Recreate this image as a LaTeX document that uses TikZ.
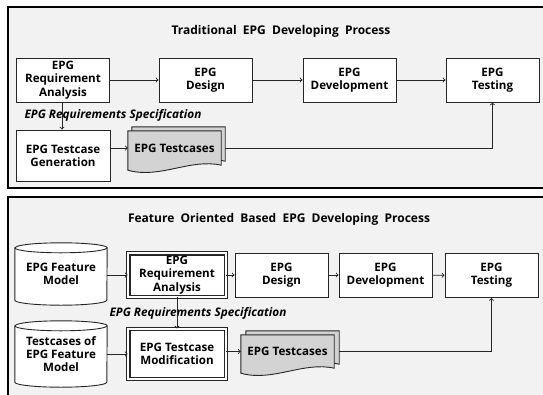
\documentclass[tikz,border=0pt]{standalone}
\usepackage{fontspec}
\setmainfont{Open Sans}
\usetikzlibrary{calc}
\definecolor{panelgray}{HTML}{F2F2F2}
\definecolor{docgray}{HTML}{D3D3D3}
\definecolor{linegray}{HTML}{262626}
\newcommand{\boxfont}{\fontsize{11.6}{13.2}\selectfont\bfseries}
\newcommand{\specfont}{\fontsize{11.8}{13}\selectfont\bfseries\itshape}
\newcommand{\titlefont}{\fontsize{12}{14}\selectfont\bfseries}
\pgfdeclarelayer{panel}
\pgfdeclarelayer{sheet}
\pgfsetlayers{panel,sheet,main}
% testcase document: node name, offset
\newcommand{\docsheet}[2]{%
  \draw[fill=docgray,draw=linegray,line width=0.9pt]
    ($(#1.north west)+#2$) -- ($(#1.north east)+#2$) -- ($(#1.south east)+#2$)
    .. controls ($(#1.south east)+(-31,-7)+#2$) and ($(#1.south west)+(32,14)+#2$) .. ($(#1.south west)+(0,5)+#2$) -- cycle;}
% feature model cylinder: node name
\newcommand{\cylsheet}[1]{%
  \draw[fill=white,draw=linegray,line width=0.9pt]
    (#1.north west) -- (#1.south west) arc[start angle=180,end angle=360,x radius=46pt,y radius=5pt]
    -- (#1.north east) arc[start angle=0,end angle=180,x radius=46pt,y radius=5pt] -- cycle;
  \draw[linegray,line width=0.9pt] (#1.north west) arc[start angle=180,end angle=360,x radius=46pt,y radius=5pt];}

\begin{document}
\begin{tikzpicture}[x=1pt,y=-1pt,
    stepbox/.style={draw=linegray,line width=1pt,fill=white,minimum width=93pt,minimum height=44pt,align=center,inner sep=0pt,font=\boxfont},
    dblbox/.style={stepbox,double=white,double distance=2.4pt,line width=1.1pt,minimum width=97.6pt,minimum height=43.6pt},
    cylbox/.style={minimum width=92pt,minimum height=52pt,align=center,inner sep=0pt,font=\boxfont},
    docbox/.style={minimum width=93pt,minimum height=34pt,align=center,inner sep=0pt,font=\boxfont},
    flow/.style={->,draw=linegray,line width=0.9pt},
    spec/.style={font=\specfont,inner sep=0pt}]
    \useasboundingbox (0,0) rectangle (543,394);
    % the two panels
    \begin{pgfonlayer}{panel}
        \draw[line width=1.6pt,fill=panelgray] (8,7) rectangle (560,188);
        \draw[line width=1.6pt,fill=panelgray] (8,197) rectangle (560,410);
    \end{pgfonlayer}
    \node[font=\titlefont] (titleA) at (281,31) {Traditional\ \ EPG\ \ Developing\ \ Process};
    \node[font=\titlefont] (titleB) at (279,219) {Feature\ \ Oriented\ \ Based\ \ EPG\ \ Developing\ \ Process};
    % traditional process
    \node[stepbox] (reqA) at (63,80) {EPG\\Requirement\\Analysis};
    \node[stepbox] (design) at (205.5,80) {EPG\\Design};
    \node[stepbox] (dev) at (349.5,80) {EPG\\Development};
    \node[stepbox] (test) at (492.5,80) {EPG\\Testing};
    \node[stepbox,minimum width=94pt,minimum height=51pt] (gen) at (63,155.5) {EPG Testcase\\Generation};
    \node[docbox] (doc) at (174.5,148) {EPG Testcases};
    \begin{pgfonlayer}{sheet}
        \docsheet{doc}{(4,-4)}
        \docsheet{doc}{(0,0)}
    \end{pgfonlayer}
    \node[spec] (specA) at (113,115) {EPG Requirements Specification};
    \draw[flow] (reqA) -- (design);
    \draw[flow] (design) -- (dev);
    \draw[flow] (dev) -- (test);
    \draw[flow] ([xshift=-1pt]reqA.south) -- ([xshift=-1pt]gen.north);
    \draw[flow] (gen.east |- doc.west) -- (doc.west);
    \draw[flow] ([xshift=4pt]doc.east) -| (test.south);
    % feature oriented process
    \node[cylbox] (fmodel) at (61,274) {EPG Feature\\Model};
    \node[cylbox,minimum height=56pt] (tcmodel) at (61,354) {Testcases of\\EPG Feature\\Model};
    \begin{pgfonlayer}{sheet}
        \cylsheet{fmodel}
        \cylsheet{tcmodel}
    \end{pgfonlayer}
    \node[dblbox] (reqB) at (177,275) {EPG\\Requirement\\Analysis};
    \node[stepbox] (designB) at (281.5,275) {EPG\\Design};
    \node[stepbox] (devB) at (385.5,275) {EPG\\Development};
    \node[stepbox] (testB) at (491.5,275.5) {EPG\\Testing};
    \node[dblbox,minimum height=50pt] (modB) at (177,354) {EPG Testcase\\Modification};
    \node[docbox,minimum height=33pt] (docB) at (287.5,351.5) {EPG Testcases};
    \begin{pgfonlayer}{sheet}
        \docsheet{docB}{(5,-4)}
        \docsheet{docB}{(0,0)}
    \end{pgfonlayer}
    \node[spec] (specB) at (198,313) {EPG Requirements Specification};
    \draw[flow] (fmodel.east |- reqB.west) -- (reqB.west);
    \draw[flow] (reqB) -- (designB);
    \draw[flow] (designB) -- (devB);
    \draw[flow] (devB) -- (testB);
    \draw[flow] (reqB.south) -- (modB.north);
    \draw[flow] (tcmodel.east |- modB.west) -- (modB.west);
    \draw[flow] (modB.east |- docB.west) -- (docB.west);
    \draw[flow] ([xshift=5pt]docB.east) -| (testB.south);
\end{tikzpicture}
\end{document}
